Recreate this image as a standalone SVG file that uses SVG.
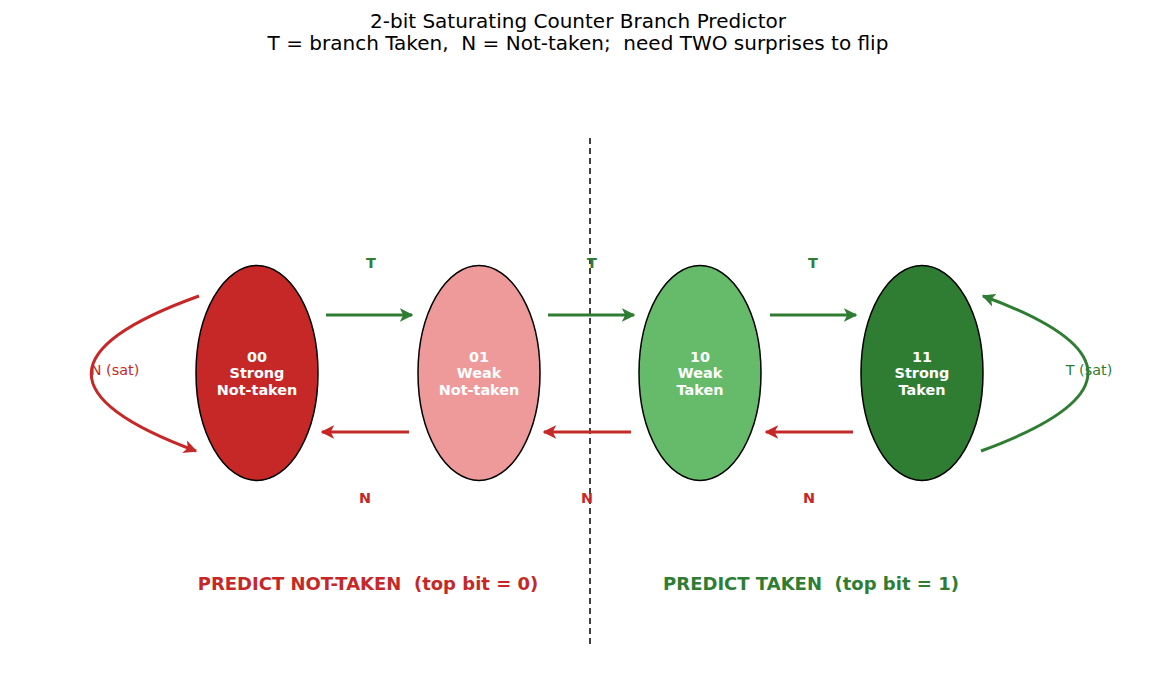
<svg xmlns="http://www.w3.org/2000/svg" width="1156" height="700" viewBox="0 0 1156 700">
<style>
text{font-family:"DejaVu Sans","Liberation Sans",sans-serif;white-space:pre;}
.title{font-size:20px;fill:#000;text-anchor:middle;}
.node text{font-size:14.4px;font-weight:bold;fill:#fff;text-anchor:middle;}
.st{stroke:#000;stroke-width:1.5;}
.g{stroke:#2e7d32;stroke-width:3;fill:none;}
.r{stroke:#c62828;stroke-width:3;fill:none;}
.lt{font-size:14.4px;font-weight:bold;text-anchor:middle;}
.sat{font-size:14.4px;text-anchor:middle;}
.big{font-size:18px;font-weight:bold;text-anchor:middle;}
</style>
<defs>
<marker id="ag" viewBox="0 0 10 10" refX="9" refY="5" markerWidth="4.5" markerHeight="4.5" orient="auto" markerUnits="strokeWidth"><path d="M0,0 L10,5 L0,10 L2.5,5 z" fill="#2e7d32"/></marker>
<marker id="ar" viewBox="0 0 10 10" refX="9" refY="5" markerWidth="4.5" markerHeight="4.5" orient="auto" markerUnits="strokeWidth"><path d="M0,0 L10,5 L0,10 L2.5,5 z" fill="#c62828"/></marker>
</defs>
<rect width="1156" height="700" fill="#fff"/>
<text class="title" x="578" y="28" xml:space="preserve">2-bit Saturating Counter Branch Predictor</text>
<text class="title" x="578" y="50" xml:space="preserve">T = branch Taken,  N = Not-taken;  need TWO surprises to flip</text>
<line x1="590" y1="138" x2="590" y2="648" stroke="#000" stroke-width="1.5" stroke-dasharray="6,4"/>
<g id="s00" class="node"><ellipse class="st" cx="257" cy="373" rx="61" ry="107.5" fill="#c62828"/><text x="257" y="362">00</text><text x="257" y="378">Strong</text><text x="257" y="395">Not-taken</text></g>
<g id="s01" class="node"><ellipse class="st" cx="479" cy="373" rx="61" ry="107.5" fill="#ef9a9a"/><text x="479" y="362">01</text><text x="479" y="378">Weak</text><text x="479" y="395">Not-taken</text></g>
<g id="s10" class="node"><ellipse class="st" cx="700" cy="373" rx="61" ry="107.5" fill="#66bb6a"/><text x="700" y="362">10</text><text x="700" y="378">Weak</text><text x="700" y="395">Taken</text></g>
<g id="s11" class="node"><ellipse class="st" cx="922" cy="373" rx="61" ry="107.5" fill="#2e7d32"/><text x="922" y="362">11</text><text x="922" y="378">Strong</text><text x="922" y="395">Taken</text></g>
<g id="connectors">
<line class="g" x1="326" y1="315" x2="412" y2="315" marker-end="url(#ag)"/>
<line class="g" x1="548" y1="315" x2="634" y2="315" marker-end="url(#ag)"/>
<line class="g" x1="770" y1="315" x2="856" y2="315" marker-end="url(#ag)"/>
<line class="r" x1="409" y1="432" x2="322" y2="432" marker-end="url(#ar)"/>
<line class="r" x1="631" y1="432" x2="544" y2="432" marker-end="url(#ar)"/>
<line class="r" x1="853" y1="432" x2="766" y2="432" marker-end="url(#ar)"/>
<path class="r" d="M199,296 Q-15,373 196,451" marker-end="url(#ar)"/>
<path class="g" d="M981,451 Q1194,373 983,296" marker-end="url(#ag)"/>
<text class="lt" x="371" y="268" fill="#2e7d32">T</text>
<text class="lt" x="592" y="268" fill="#2e7d32">T</text>
<text class="lt" x="813" y="268" fill="#2e7d32">T</text>
<text class="lt" x="365" y="503" fill="#c62828">N</text>
<text class="lt" x="587" y="503" fill="#c62828">N</text>
<text class="lt" x="809" y="503" fill="#c62828">N</text>
<text class="sat" x="115" y="375" fill="#c62828">N (sat)</text>
<text class="sat" x="1089" y="375" fill="#2e7d32">T (sat)</text>
</g>
<text class="big" x="368" y="590" fill="#c62828" xml:space="preserve">PREDICT NOT-TAKEN  (top bit = 0)</text>
<text class="big" x="811" y="590" fill="#2e7d32" xml:space="preserve">PREDICT TAKEN  (top bit = 1)</text>
</svg>
